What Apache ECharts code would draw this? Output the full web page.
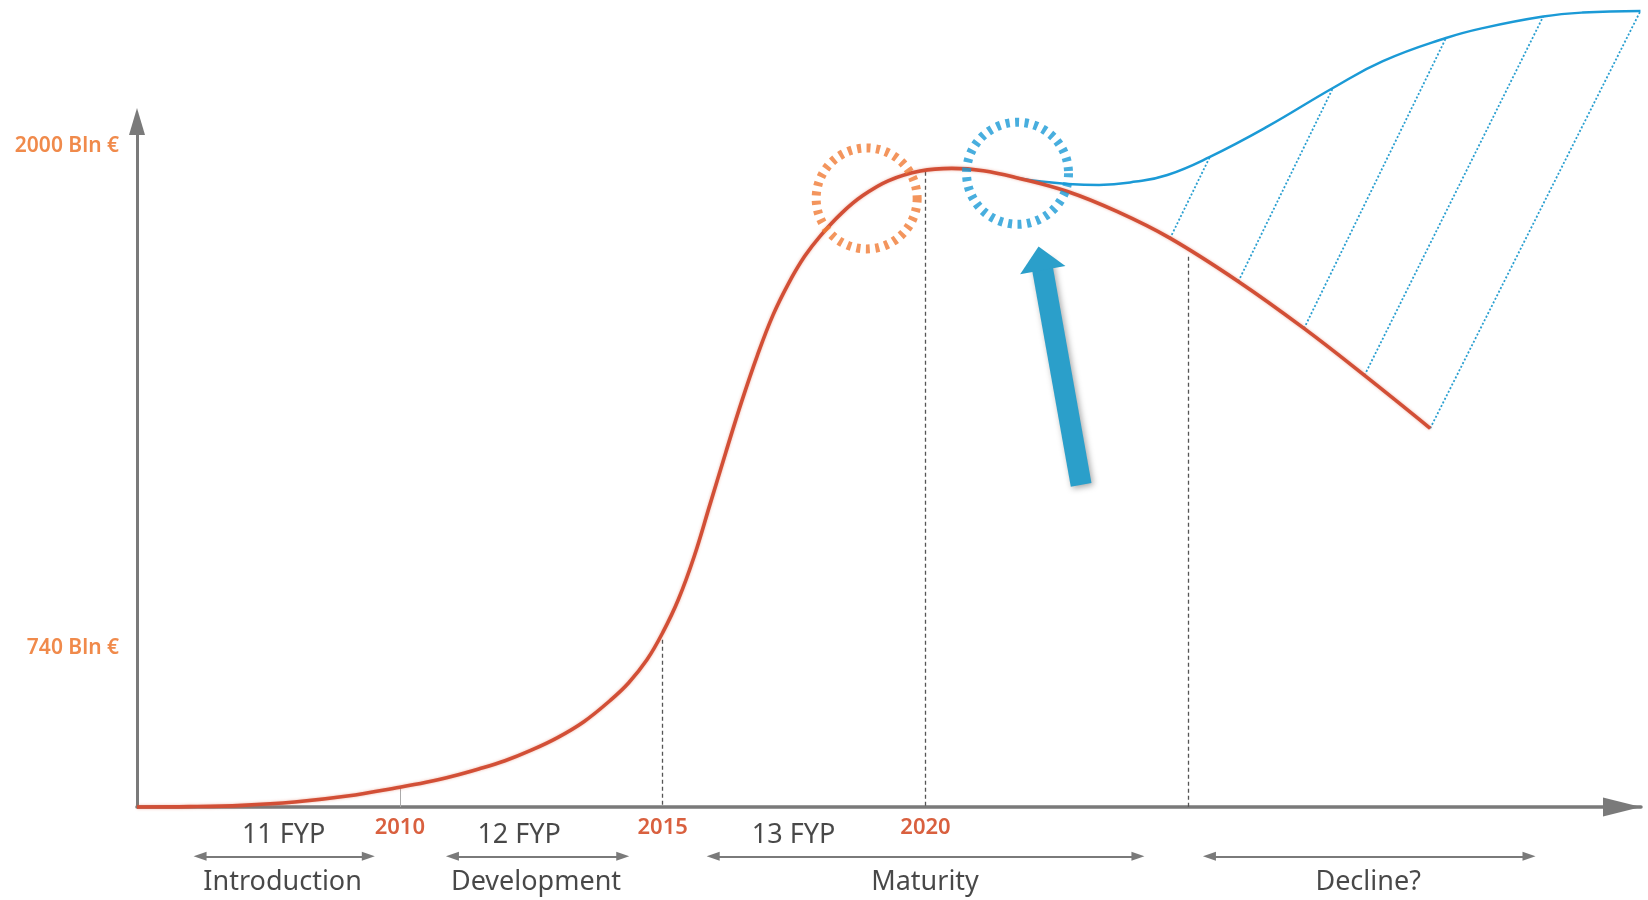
<!DOCTYPE html>
<html><head><meta charset="utf-8">
<script src="https://cdn.jsdelivr.net/npm/echarts@6/dist/echarts.min.js"></script>
<style>html,body{margin:0;padding:0;background:#fff}#c{width:1648px;height:900px}</style>
</head><body><div id="c"></div>
<script>
// ---- data (years on x, schematic value on y) ----
const yearTicks = [2010, 2015, 2020];
const yTickValues = [480, 2000];
const yTickLabels = ['740 Bln €', '2000 Bln €'];

const redCurve = [
  [2005, 0], [2006, 1], [2007, 5], [2008, 15], [2009, 33], [2010, 60], [2010.5, 75],
  [2011, 93], [2011.5, 115], [2012, 140], [2012.5, 172], [2013, 210], [2013.5, 258],
  [2014, 322], [2014.35, 375], [2014.7, 445], [2015, 527], [2015.3, 628], [2015.6, 758],
  [2015.9, 915], [2016.2, 1072], [2016.5, 1225], [2016.8, 1365], [2017.1, 1488],
  [2017.4, 1585], [2017.7, 1665], [2018, 1727], [2018.4, 1795], [2018.8, 1848],
  [2019.3, 1894], [2019.9, 1923], [2020.5, 1931], [2021.1, 1924], [2021.75, 1902],
  [2022.7, 1861], [2023.65, 1800], [2024.65, 1720], [2025.95, 1589], [2027.2, 1447],
  [2028.35, 1305], [2029.6, 1145]
];
const blueCurve = [
  [2021.75, 1902], [2022.2, 1891], [2022.7, 1884], [2023.3, 1881], [2024.0, 1891],
  [2024.6, 1911], [2025.4, 1965], [2026.5, 2057], [2027.75, 2174], [2028.7, 2255],
  [2029.9, 2325], [2030.6, 2355], [2031.75, 2390], [2032.5, 2402], [2033.6, 2407]
];
const dropYears = [2010, 2015, 2020, 2025];
const dropValues = [55, 506, 1921, 1664];
const hatchFrom = [[2024.65, 1719], [2025.95, 1589], [2027.2, 1447], [2028.35, 1305], [2029.6, 1145]];
const hatchTo = [[2025.41, 1966], [2027.75, 2174], [2029.9, 2325], [2031.75, 2390], [2033.6, 2407]];

const planLabels = ['11 FYP', '12 FYP', '13 FYP'];
const planCenters = [2007.79, 2012.27, 2017.49];
const phaseLabels = ['Introduction', 'Development', 'Maturity', 'Decline?'];
const phaseCenters = [2007.77, 2012.59, 2019.99, 2028.42];
const phaseStarts = [2006.2, 2011.0, 2015.96, 2025.4];
const phaseEnds = [2009.4, 2014.24, 2024.04, 2031.48];

const peakCircle = [2018.88, 1840];
const turnCircle = [2021.75, 1916];
const bigArrowTail = [2022.96, 974];
const bigArrowHead = [2022.19, 1659];

// ---- layout constants ----
const X_MIN = 2005, X_MAX = 2033.61, Y_MIN = 0, Y_MAX = 2440;
const Y_AXIS_TOP = 2073;
const PLAN_ROW = -85, ARROW_ROW = -149, PHASE_ROW = -228;
const FONT = '"Noto Sans", "Open Sans", sans-serif';

const chart = echarts.init(document.getElementById('c'));
const option = {
  animation: false,
  backgroundColor: '#ffffff',
  grid: { left: 137, right: 7, top: 0, bottom: 93, containLabel: false, outerBoundsMode: 'none' },
  xAxis: {
    type: 'value', min: X_MIN, max: X_MAX, interval: 5,
    splitLine: { show: false },
    axisTick: { show: false },
    axisLine: {
      show: true, onZero: false,
      lineStyle: { color: '#7a7a7a', width: 3.5 },
      symbol: ['none', 'triangle'], symbolSize: [19, 38], symbolOffset: [0, -19]
    },
    axisLabel: {
      customValues: yearTicks,
      formatter: v => (yearTicks.indexOf(v) >= 0 ? String(v) : ''),
      color: '#d9603f', fontSize: 22, fontWeight: 600, fontFamily: FONT, margin: 10
    }
  },
  yAxis: {
    type: 'value', min: Y_MIN, max: Y_MAX,
    splitLine: { show: false },
    axisTick: { show: false },
    axisLine: { show: false },
    axisLabel: {
      customValues: yTickValues,
      formatter: v => { const i = yTickValues.indexOf(v); return i >= 0 ? yTickLabels[i] : ''; },
      color: '#f08a4b', fontSize: 21, fontWeight: 600, fontFamily: FONT, margin: 18
    }
  },
  series: [
    // y axis with arrow
    {
      type: 'lines', coordinateSystem: 'cartesian2d', z: 1, silent: true, clip: false,
      symbol: ['none', 'triangle'], symbolSize: [[16, 27], [16, 27]],
      lineStyle: { color: '#7a7a7a', width: 3, opacity: 1 },
      data: [{ coords: [[X_MIN, 0], [X_MIN, Y_AXIS_TOP]] }]
    },
    // drop lines
    {
      type: 'lines', coordinateSystem: 'cartesian2d', z: 1, silent: true, symbol: 'none', clip: false,
      lineStyle: { color: '#555', width: 1.3, type: [4, 3], opacity: 1 },
      data: dropYears.map((y, i) => ({
        coords: [[y, dropValues[i]], [y, 0]],
        lineStyle: i === 0 ? { type: 'solid', color: '#aaa', width: 1 } : undefined
      }))
    },
    // hatch lines
    {
      type: 'lines', coordinateSystem: 'cartesian2d', z: 2, silent: true, symbol: 'none', clip: false,
      lineStyle: { color: '#2a9fd0', width: 1.8, type: [2, 2], opacity: 1 },
      data: hatchFrom.map((p, i) => ({ coords: [p, hatchTo[i]] }))
    },
    // red life-cycle curve
    {
      type: 'line', data: redCurve, smooth: 0.4, showSymbol: false, clip: false, z: 4,
      lineStyle: { color: '#d24f36', width: 3.6, shadowBlur: 3, shadowColor: 'rgba(220,90,60,0.45)' }
    },
    // blue renewal curve
    {
      type: 'line', data: blueCurve, smooth: 0.45, showSymbol: false, clip: false, z: 3,
      lineStyle: { color: '#1b9ad6', width: 2.5 }
    },
    // dashed circles
    {
      type: 'scatter', z: 6, silent: true, symbol: 'circle', clip: false,
      data: [
        { value: peakCircle, symbolSize: 101, itemStyle: { borderColor: '#f07a35' } },
        { value: turnCircle, symbolSize: 102, itemStyle: { borderColor: '#1a9ad6' } }
      ],
      itemStyle: { color: 'rgba(0,0,0,0)', borderWidth: 9, borderType: [4, 5.5] }
    },
    // big blue arrow
    {
      type: 'lines', coordinateSystem: 'cartesian2d', z: 7, silent: true, clip: false,
      symbol: ['none', 'triangle'], symbolSize: [[46, 24], [46, 24]],
      lineStyle: { color: '#2b9fca', width: 21, opacity: 1, cap: 'butt',
        shadowBlur: 6, shadowColor: 'rgba(0,0,0,0.35)', shadowOffsetX: 2, shadowOffsetY: 2 },
      data: [{ coords: [bigArrowTail, bigArrowHead] }]
    },
    // phase double arrows
    {
      type: 'lines', coordinateSystem: 'cartesian2d', z: 2, silent: true, clip: false,
      symbol: ['triangle', 'triangle'], symbolSize: [[9, 13], [9, 13]],
      lineStyle: { color: '#7a7a7a', width: 2, opacity: 1 },
      data: phaseStarts.map((s, i) => ({ coords: [[s, ARROW_ROW], [phaseEnds[i], ARROW_ROW]] }))
    },
    // FYP labels
    {
      type: 'scatter', z: 5, silent: true, symbolSize: 0, clip: false,
      data: planLabels.map((t, i) => ({ name: t, value: [planCenters[i], PLAN_ROW] })),
      label: { show: true, position: 'inside', formatter: '{b}', color: '#1a1a1a', fontSize: 27, fontFamily: FONT }
    },
    // phase labels
    {
      type: 'scatter', z: 5, silent: true, symbolSize: 0, clip: false,
      data: phaseLabels.map((t, i) => ({ name: t, value: [phaseCenters[i], PHASE_ROW] })),
      label: { show: true, position: 'inside', formatter: '{b}', color: '#1a1a1a', fontSize: 27, fontFamily: FONT }
    }
  ]
};
chart.setOption(option);
</script>
</body></html>
